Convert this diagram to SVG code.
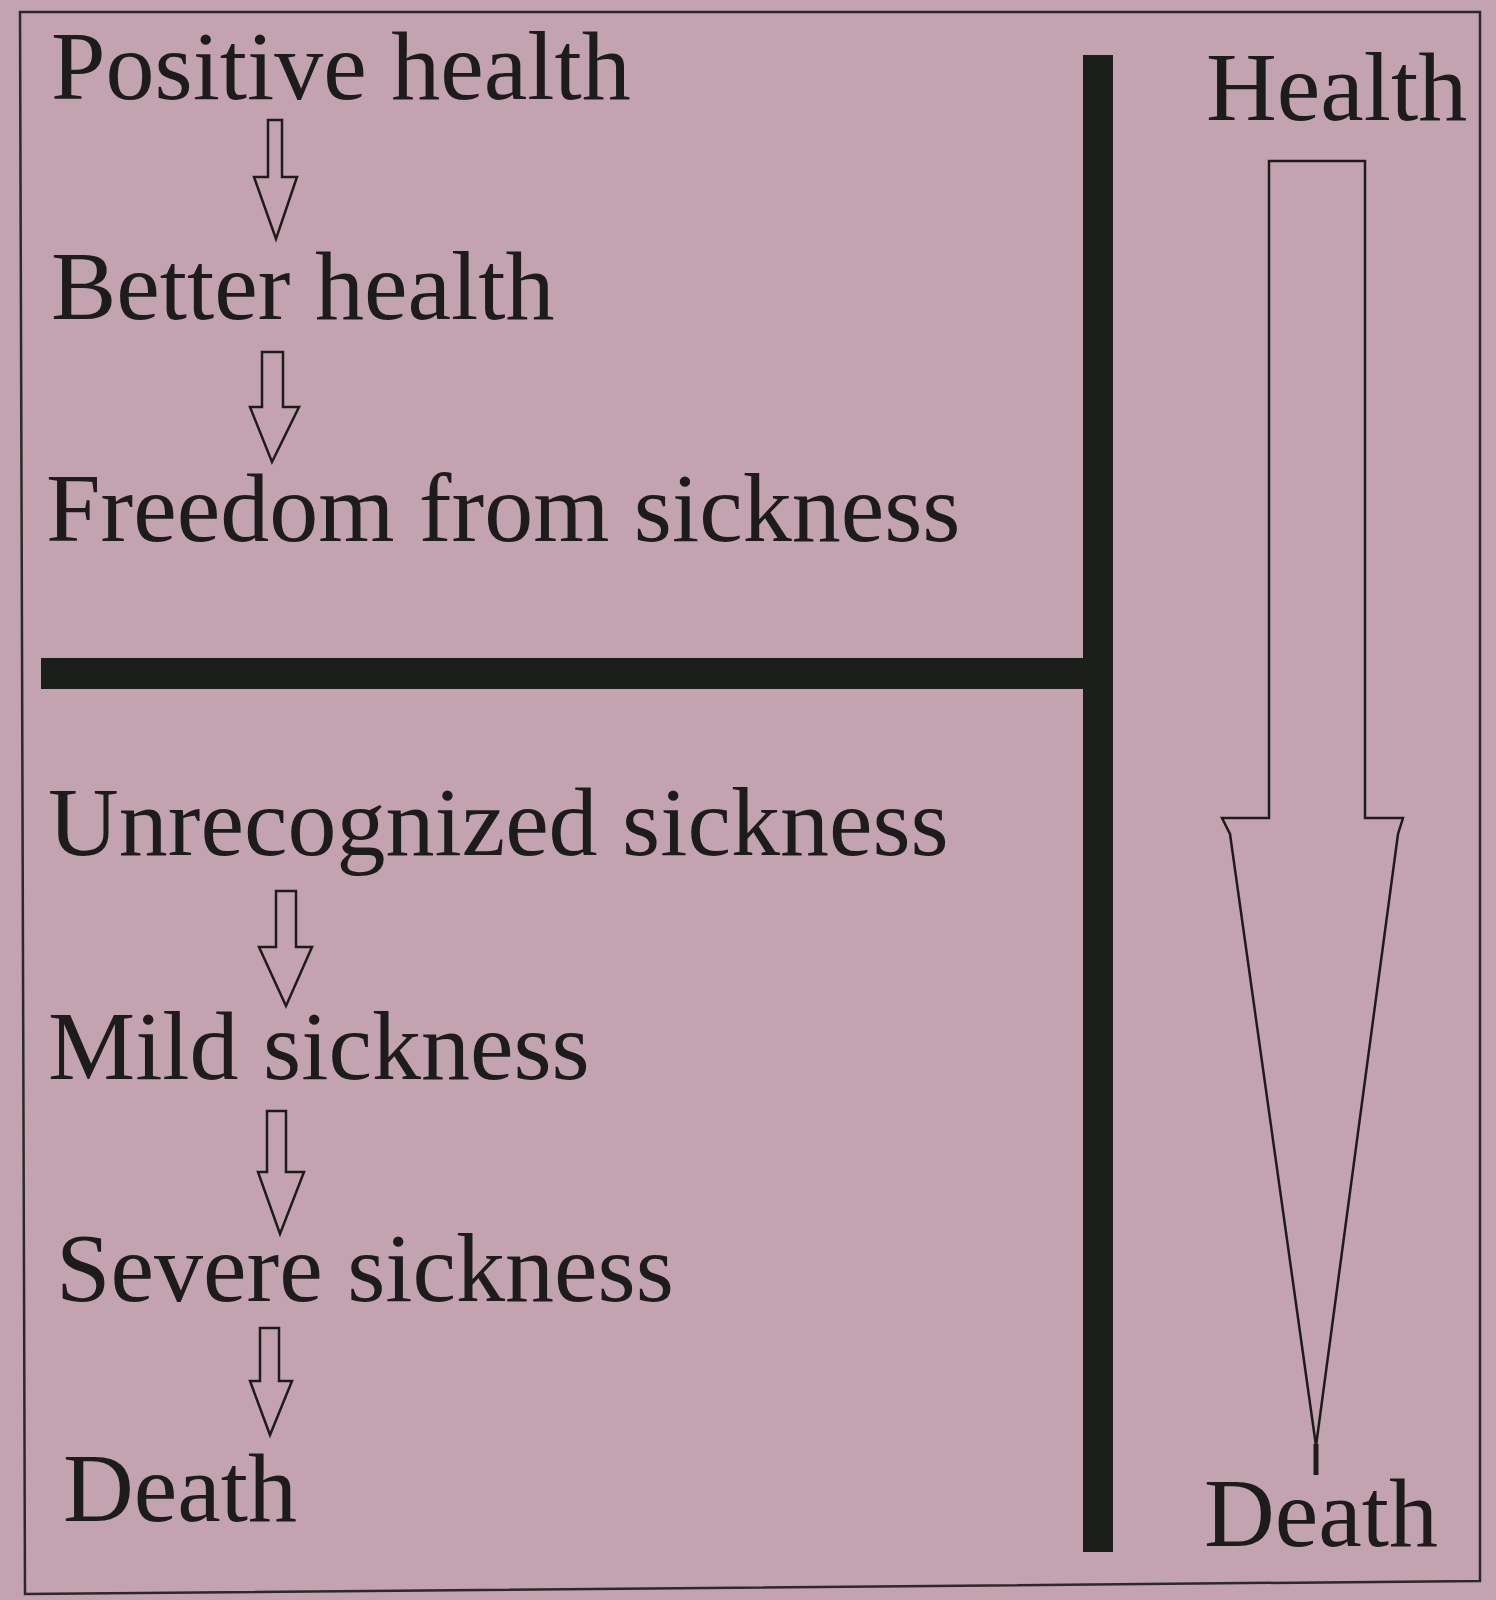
<svg xmlns="http://www.w3.org/2000/svg" width="1496" height="1600" viewBox="0 0 1496 1600">
  <defs>
    <style>
      .lbl { font-family: "Liberation Serif", "Times New Roman", serif; font-size: 98px; fill: #1c1c1c; }
      .bar { fill: #1b1f1c; }
      .arr { fill: none; stroke: #1c1c1c; stroke-width: 2.5; stroke-linejoin: miter; }
    </style>
  </defs>
  <rect x="0" y="0" width="1496" height="1600" fill="#c4a3b1"/>
  <polygon points="20,12 1480,12 1480,1581 25,1594" fill="none" stroke="#2a2a2a" stroke-width="2.5"/>

  <g id="dividers">
    <rect class="bar" x="1083" y="55" width="30" height="1497"/>
    <rect class="bar" x="41" y="658" width="1056" height="31"/>
  </g>

  <g id="node-positive-health"><text class="lbl" x="51" y="99">Positive health</text></g>
  <g id="node-better-health"><text class="lbl" x="51" y="319">Better health</text></g>
  <g id="node-freedom"><text class="lbl" x="46" y="541">Freedom from sickness</text></g>
  <g id="node-unrecognized"><text class="lbl" x="48" y="855">Unrecognized sickness</text></g>
  <g id="node-mild"><text class="lbl" x="48" y="1079">Mild sickness</text></g>
  <g id="node-severe"><text class="lbl" x="56" y="1301">Severe sickness</text></g>
  <g id="node-death-left"><text class="lbl" x="63" y="1521">Death</text></g>
  <g id="node-health-right"><text class="lbl" x="1206" y="120">Health</text></g>
  <g id="node-death-right"><text class="lbl" x="1204" y="1546">Death</text></g>

  <g id="connectors">
    <polygon class="arr" points="268,120 282,120 282,177 297,177 276,239 254,177 268,177"/>
    <polygon class="arr" points="262,352 283,352 283,407 299,407 272,462 250,407 262,407"/>
    <polygon class="arr" points="276,891 296,891 296,947 312,947 286,1006 259,947 276,947"/>
    <polygon class="arr" points="267,1111 286,1111 286,1172 304,1172 280,1234 258,1172 267,1172"/>
    <polygon class="arr" points="260,1328 279,1328 279,1381 292,1381 270,1435 250,1381 260,1381"/>
    <polygon class="arr" points="1269,161 1365,161 1365,818 1403,818 1398,834 1316,1446 1230,834 1222,818 1269,818"/>
    <line x1="1316" y1="1444" x2="1316" y2="1475" stroke="#1c1c1c" stroke-width="5"/>
  </g>
</svg>
